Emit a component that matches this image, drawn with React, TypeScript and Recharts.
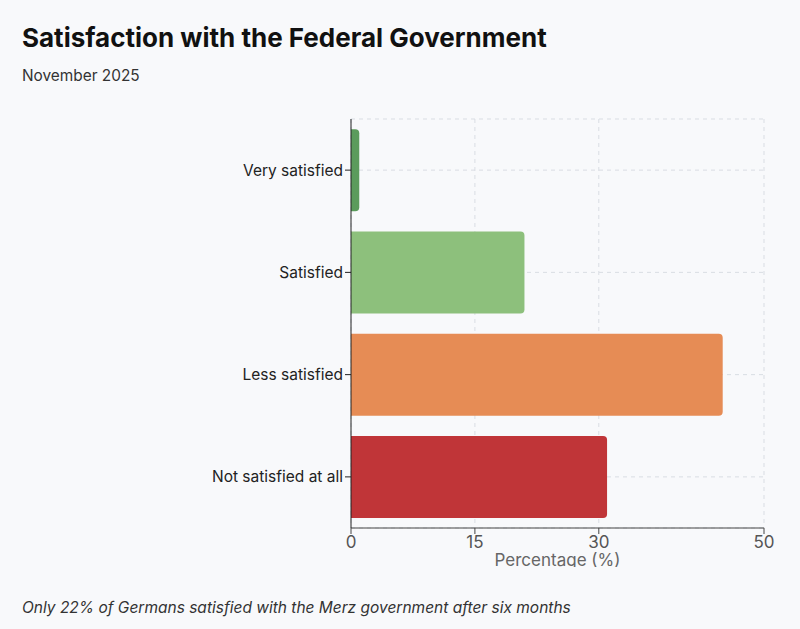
import { BarChart, Bar, XAxis, YAxis, CartesianGrid, Cell, ReferenceArea } from 'recharts'

const categories = ['Very satisfied', 'Satisfied', 'Less satisfied', 'Not satisfied at all']
const shares = [1, 21, 45, 31]
const barColors = ['#5b9b5c', '#8dc07c', '#e68c55', '#c03538']
const xTicks = [0, 15, 30, 50]

const data = categories.map((name, i) => ({ name, value: shares[i] }))

const font = 'Inter, "Noto Sans", sans-serif'

export default function App() {
  return (
    <div
      style={{
        position: 'fixed',
        inset: 0,
        width: 800,
        height: 629,
        background: '#f8f9fb',
        fontFamily: font,
        color: '#111',
      }}
    >
      <div style={{ position: 'absolute', left: 22, top: 22, fontSize: 26, fontWeight: 700 }}>
        Satisfaction with the Federal Government
      </div>
      <div style={{ position: 'absolute', left: 22, top: 66, fontSize: 15.4, color: '#333' }}>November 2025</div>

      <div style={{ position: 'absolute', left: 0, top: 110 }}>
        <BarChart
          width={800}
          height={457}
          data={data}
          layout="vertical"
          margin={{ top: 9, right: 36, bottom: 0, left: 0 }}
          barCategoryGap="10%"
        >
          <CartesianGrid strokeDasharray="4 4" stroke="#d9dde3" />
          <ReferenceArea fill="none" stroke="#d9dde3" strokeDasharray="4 4" />
          <XAxis
            type="number"
            domain={[0, 50]}
            ticks={xTicks}
            interval={0}
            stroke="#444"
            tick={{ fontSize: 17, fill: '#555', fontFamily: font }}
            height={39}
            label={{
              value: 'Percentage (%)',
              position: 'insideBottom',
              offset: 1,
              style: { fontSize: 17, fill: '#666', fontFamily: font },
            }}
          />
          <YAxis
            type="category"
            dataKey="name"
            width={351}
            stroke="#222"
            tick={{ fontSize: 15.5, fill: '#222', fontFamily: font }}
          />
          <Bar dataKey="value" radius={[0, 4, 4, 0]} isAnimationActive={false}>
            {data.map((d, i) => (
              <Cell key={d.name} fill={barColors[i]} />
            ))}
          </Bar>
        </BarChart>
      </div>

      <div style={{ position: 'absolute', left: 22, top: 598, fontSize: 15.5, fontStyle: 'italic', color: '#333' }}>
        Only 22% of Germans satisfied with the Merz government after six months
      </div>
    </div>
  )
}
